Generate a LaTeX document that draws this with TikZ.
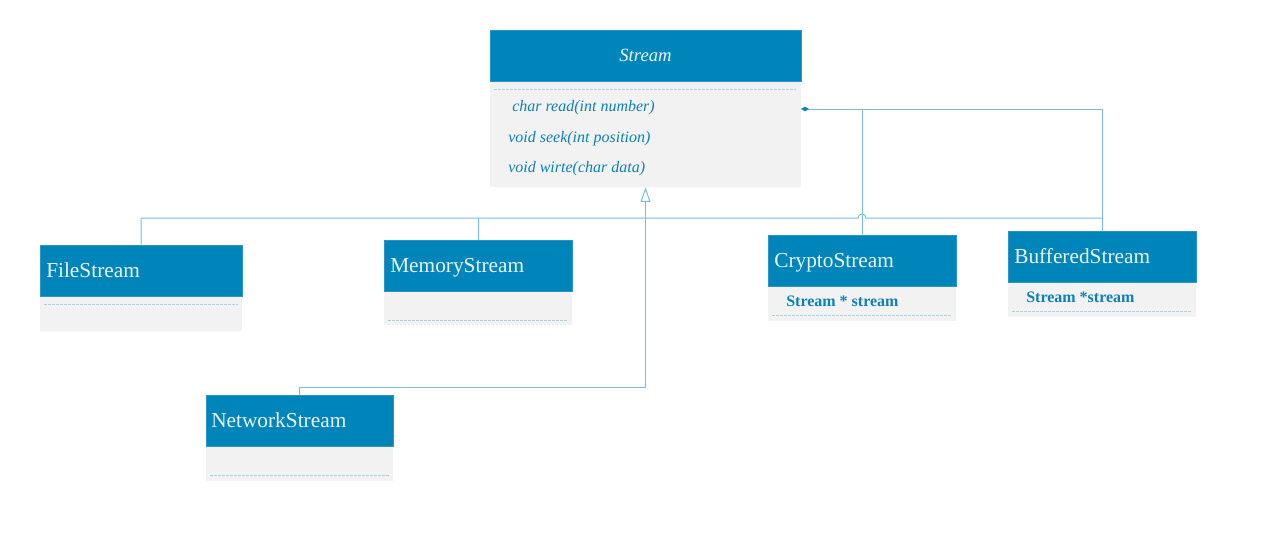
\documentclass[tikz,border=0pt]{standalone}
\usepackage{fontspec}
\setmainfont{Liberation Serif}
\usetikzlibrary{arrows.meta,fit}
\definecolor{hdrblue}{HTML}{0085BB}
\definecolor{hdredge}{HTML}{2A95C6}
\definecolor{bodygray}{HTML}{F2F2F2}
\definecolor{txtblue}{HTML}{0E80B7}
\definecolor{lineblue}{HTML}{78BEDA}
\definecolor{hdrtxt}{HTML}{EAF4FA}
\definecolor{sepblue}{HTML}{A5D2E4}
\begin{document}
\begin{tikzpicture}[x=0.75pt,y=-0.75pt,
  hdr/.style={draw=hdredge, fill=hdrblue, inner sep=0pt, line width=0.6pt},
  bdy/.style={fill=bodygray, inner sep=0pt},
  ctitle/.style={anchor=base west, inner sep=0pt, text=hdrtxt, font=\fontsize{16}{18}\selectfont},
  meth/.style={anchor=base west, inner sep=0pt, text=txtblue, font=\fontsize{12}{14}\selectfont\itshape},
  attr/.style={anchor=base west, inner sep=0pt, text=txtblue, font=\fontsize{12}{14}\selectfont\bfseries},
  sep/.style={draw=sepblue, line width=0.6pt, dash pattern=on 2pt off 1pt},
  conn/.style={draw=lineblue, line width=0.75pt}]
\useasboundingbox (0,0) rectangle (1287,536);

% Stream
\node[hdr, fit={(490,30)(801,81)}] (sth) {};
\node[bdy, fit={(490,82)(801,187)}] (stb) {};
\node[inner sep=0pt, text=hdrtxt, font=\fontsize{14}{16}\selectfont\itshape] (stt) at (sth.center) {Stream};
\draw[sep] (494,89) -- (796,89);
\node[meth] (m1) at (512,111) {char read(int number)};
\node[meth] (m2) at (508,142) {void seek(int position)};
\node[meth] (m3) at (508,172) {void wirte(char data)};

% FileStream
\node[hdr, fit={(40,245)(242,296)}] (fsh) {};
\node[bdy, fit={(40,297)(242,331)}] (fsb) {};
\node[ctitle] (fst) at (46,277) {FileStream};
\draw[sep] (44,304) -- (238,304);

% MemoryStream
\node[hdr, fit={(384,240)(572,291)}] (msh) {};
\node[bdy, fit={(384,292)(572,325)}] (msb) {};
\node[ctitle] (mst) at (390,272) {MemoryStream};
\draw[sep] (388,320) -- (568,320);

% CryptoStream
\node[hdr, fit={(768,235)(956,286)}] (csh) {};
\node[bdy, fit={(768,287)(956,321)}] (csb) {};
\node[ctitle] (cst) at (774,267) {CryptoStream};
\node[attr] (csa) at (786,306) {Stream * stream};
\draw[sep] (772,315) -- (952,315);

% BufferedStream
\node[hdr, fit={(1008,231)(1196,282)}] (bsh) {};
\node[bdy, fit={(1008,283)(1196,317)}] (bsb) {};
\node[ctitle] (bst) at (1014,263) {BufferedStream};
\node[attr] (bsa) at (1026,302) {Stream *stream};
\draw[sep] (1012,311) -- (1192,311);

% NetworkStream
\node[hdr, fit={(206,395)(393,446)}] (nsh) {};
\node[bdy, fit={(206,447)(393,481)}] (nsb) {};
\node[ctitle] (nst) at (211,427) {NetworkStream};
\draw[sep] (210,475) -- (389,475);

% connectors
\coordinate (agg) at (801,109);
\coordinate (hy) at (0,218);
\coordinate (gy) at (0,387);
\coordinate (hopL) at ([xshift=-3pt]csh.north |- hy);

% aggregation
\draw[conn, {Diamond[length=6pt,width=3.5pt,color=txtblue]}-] (agg) -- (bsh.north |- agg) -- (bsh.north);
\draw[conn] (csh.north |- agg) -- (csh.north);

% inheritance bus
\draw[conn] (fsh.north) |- (hopL) arc[start angle=180, end angle=360, radius=4] -- (bsh.north |- hy);
\draw[conn] (msh.north) -- (msh.north |- hy);

% generalization
\draw[conn, -{Triangle[open, length=11pt, width=7.5pt]}] (nsh.north) |- (stb.south |- gy) -- (stb.south);
\end{tikzpicture}
\end{document}
